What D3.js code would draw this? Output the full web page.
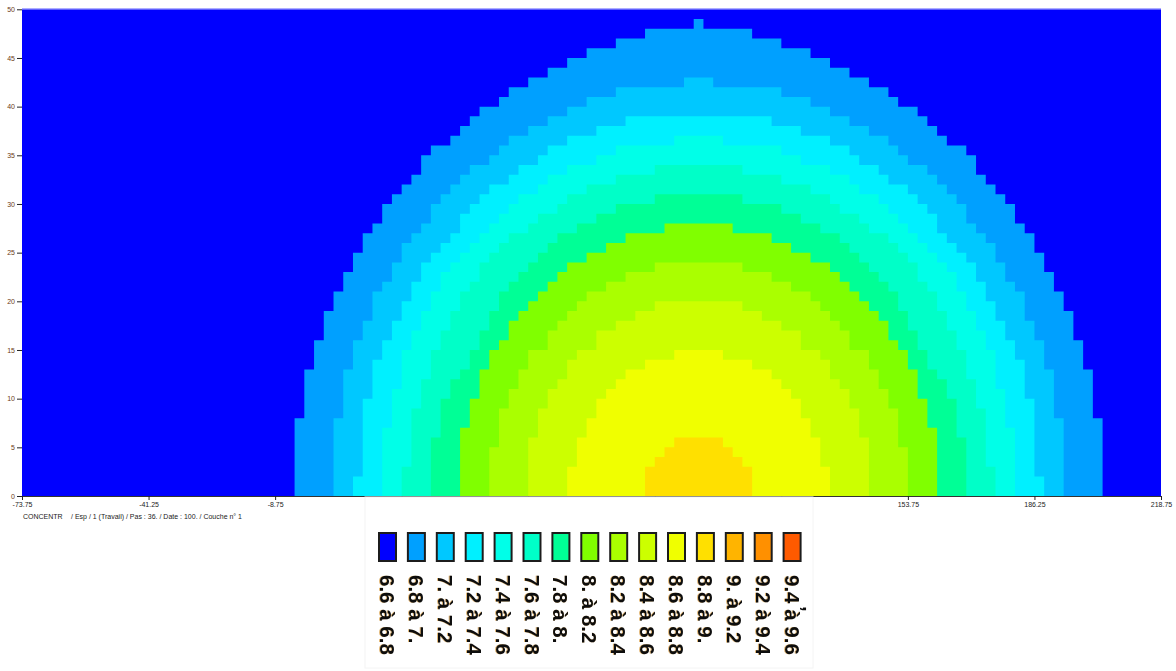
<!DOCTYPE html>
<html>
<head>
<meta charset="utf-8">
<script src="https://cdn.jsdelivr.net/npm/d3@7"></script>
<style>
  body { margin: 0; background: #ffffff; }
  svg { display: block; font-family: "Liberation Sans", Arial, sans-serif; }
</style>
</head>
<body>
<svg id="chart" width="1176" height="671"></svg>
<script>
// Concentration classes shown in the legend
const classLabels = [
  "6.6 à 6.8", "6.8 à 7.", "7. à 7.2", "7.2 à 7.4", "7.4 à 7.6",
  "7.6 à 7.8", "7.8 à 8.", "8. à 8.2", "8.2 à 8.4", "8.4 à 8.6",
  "8.6 à 8.8", "8.8 à 9.", "9. à 9.2", "9.2 à 9.4", "9.4 à 9.6"
];
const classColors = [
  "#0000ff", "#00a0ff", "#00c8ff", "#00f0ff", "#00ffe8",
  "#00ffc8", "#00ff96", "#80ff00", "#aaff00", "#ccff00",
  "#f0ff00", "#ffe000", "#ffb400", "#ff9000", "#ff5a00"
];

// Axis ticks
const xTickValues = [-73.75, -41.25, -8.75, 23.75, 56.25, 88.75, 121.25, 153.75, 186.25, 218.75];
const yTickValues = [0, 5, 10, 15, 20, 25, 30, 35, 40, 45, 50];

// Mesh: cells of 2.5 (x) by 1 (y); plume centred on the column at x = 100
const xDomain = [-73.75, 218.75];
const yDomain = [0, 50];
const cellWidth = 2.5;
const cellHeight = 1;
const plumeCentre = 100;

// Half-width of each iso-class, in cells on either side of the centre column,
// listed layer by layer from y = 0 upward
const above6_8 = [41,41,41,41,41,41,41,41,40,40,40,40,40,39,39,39,38,38,38,37,37,36,36,35,35,34,34,33,32,32,31,30,29,28,28,27,25,24,23,22,20,19,17,15,13,11,8,5,0];
const above7_0 = [37,37,37,37,37,37,37,37,36,36,36,36,36,35,35,35,34,34,33,33,33,32,31,31,30,30,29,28,27,27,26,25,24,23,21,20,19,17,15,13,11,8,1];
const above7_2 = [35,35,34,34,34,34,34,34,34,34,33,33,33,33,32,32,31,31,30,30,29,29,28,28,27,26,25,24,24,23,22,21,19,18,16,15,13,10,7];
const above7_4 = [32,32,32,32,32,32,32,31,31,31,31,30,30,30,30,29,29,28,28,27,27,26,26,25,24,23,22,21,20,19,18,16,15,13,10,8,2];
const above7_6 = [30,30,30,29,29,29,29,29,29,28,28,28,27,27,27,26,26,25,25,24,24,23,22,22,21,20,19,17,16,14,13,11,8,4];
const above7_8 = [27,27,27,27,27,27,26,26,26,26,25,25,24,23,23,22,22,21,21,20,20,19,18,17,16,15,14,12,10,8,4];
const above8_0 = [24,24,24,24,24,24,24,23,23,23,22,22,22,21,21,20,19,19,18,17,16,15,14,13,11,9,7,3];
const above8_2 = [21,21,21,21,21,20,20,20,20,19,19,18,18,17,17,15,15,14,13,12,11,9,7,4];
const above8_4 = [17,17,17,17,17,17,16,16,16,15,15,14,13,13,12,10,10,8,6,4];
const above8_6 = [13,13,13,12,12,12,11,11,10,10,9,8,7,5,2];
const above8_8 = [5,5,5,4,3,2];

const isoLayers = [above6_8, above7_0, above7_2, above7_4, above7_6, above7_8,
                   above8_0, above8_2, above8_4, above8_6, above8_8];

const svg = d3.select("#chart");
const font = "'Liberation Sans', Arial, sans-serif";

const x = d3.scaleLinear().domain(xDomain).range([22, 1161]);
const y = d3.scaleLinear().domain(yDomain).range([496, 9.3]);

// Soft edges for the legend block
const defs = svg.append("defs");
defs.append("filter").attr("id", "soft")
  .attr("x", "-5%").attr("y", "-5%").attr("width", "110%").attr("height", "110%")
  .append("feGaussianBlur").attr("stdDeviation", 0.55);

// Background class fills the whole mesh
svg.append("rect")
  .attr("x", x(xDomain[0]))
  .attr("y", y(yDomain[1]))
  .attr("width", x(xDomain[1]) - x(xDomain[0]))
  .attr("height", y(yDomain[0]) - y(yDomain[1]))
  .attr("fill", classColors[0]);

// Each iso-class drawn as one stepped shape built from its cell rows
const cells = svg.append("g").attr("class", "cells");
isoLayers.forEach((halfWidths, i) => {
  const p = d3.path();
  halfWidths.forEach((n, j) => {
    const x0 = x(plumeCentre - cellWidth * (n + 0.5));
    const x1 = x(plumeCentre + cellWidth * (n + 0.5));
    const y0 = y((j + 1) * cellHeight);
    const y1 = y(j * cellHeight);
    p.rect(x0, y0, x1 - x0, y1 - y0);
  });
  cells.append("path").attr("d", p.toString()).attr("fill", classColors[i + 1]);
});

// Top edge of the mesh
svg.append("line")
  .attr("x1", x(xDomain[0])).attr("x2", x(xDomain[1]))
  .attr("y1", y(yDomain[1]) - 0.5).attr("y2", y(yDomain[1]) - 0.5)
  .attr("stroke", "#8c8cff").attr("stroke-width", 1);

// Axes
const yAxis = d3.axisLeft(y).tickValues(yTickValues).tickSize(5).tickSizeOuter(0)
  .tickFormat(d => String(d));
const gy = svg.append("g").attr("transform", `translate(${x(xDomain[0])},0)`).call(yAxis);
gy.select(".domain").remove();
gy.selectAll(".tick line").attr("stroke", "#222");
gy.selectAll(".tick text").attr("font-size", 7).attr("font-family", font)
  .attr("fill", "#6b3a12").attr("x", -7);

const xAxis = d3.axisBottom(x).tickValues(xTickValues).tickSize(4).tickSizeOuter(0)
  .tickFormat(d => String(d));
const gx = svg.append("g").attr("transform", `translate(0,${y(0)})`).call(xAxis);
gx.select(".domain").attr("stroke", "#333");
gx.selectAll(".tick line").attr("stroke", "#222");
gx.selectAll(".tick text").attr("font-size", 7).attr("font-family", font)
  .attr("fill", "#222").attr("y", 6);

// Caption
svg.append("text").attr("x", 23).attr("y", 519)
  .attr("font-size", 7).attr("font-family", font).attr("fill", "#222")
  .text("CONCENTR");
svg.append("text").attr("x", 71).attr("y", 519)
  .attr("font-size", 7).attr("font-family", font).attr("fill", "#222")
  .text("/ Esp / 1 (Travail) / Pas : 36. / Date : 100. / Couche n° 1");

// Legend
const legend = svg.append("g").attr("class", "legend");
legend.append("rect")
  .attr("x", 365).attr("y", 497).attr("width", 448).attr("height", 171)
  .attr("fill", "#ffffff").attr("stroke", "#f4f4f4").attr("stroke-width", 1);

const keys = legend.append("g").attr("filter", "url(#soft)");
const keyStep = 28.9;
const keyLeft = 379;
classLabels.forEach((label, i) => {
  const kx = keyLeft + keyStep * i;
  keys.append("rect")
    .attr("x", kx).attr("y", 533).attr("width", 17).attr("height", 28)
    .attr("fill", classColors[i]).attr("stroke", "#1e1e1e").attr("stroke-width", 2);
  const cx = kx + 8.5;
  keys.append("text")
    .attr("transform", `translate(${cx - 0.8},575) rotate(90)`)
    .attr("dominant-baseline", "central")
    .attr("font-size", 20.5).attr("font-family", font).attr("font-weight", "bold")
    .attr("fill", "#d08a20").attr("opacity", 0.6)
    .text(label);
  keys.append("text")
    .attr("transform", `translate(${cx},575) rotate(90)`)
    .attr("dominant-baseline", "central")
    .attr("font-size", 20.5).attr("font-family", font).attr("font-weight", "bold")
    .attr("fill", "#111")
    .text(label);
});
keys.append("text")
  .attr("transform", `translate(810,606) rotate(90)`)
  .attr("dominant-baseline", "central")
  .attr("font-size", 20.5).attr("font-family", font).attr("font-weight", "bold")
  .attr("fill", "#111")
  .text(",");
</script>
</body>
</html>
